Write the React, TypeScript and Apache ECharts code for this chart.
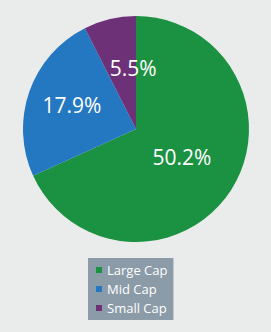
import React, { useEffect, useRef } from "react";
import * as echarts from "echarts";

const categories = ["Large Cap", "Mid Cap", "Small Cap"];
const values = [50.2, 17.9, 5.5];
const colors = ["#1b9142", "#2477c1", "#6d3178"];
const labelOffsets = [[-4, -4], [-8, -4], [11, -3]];

export default function App() {
  const ref = useRef<HTMLDivElement>(null);
  useEffect(() => {
    if (!ref.current) return;
    const chart = echarts.init(ref.current, undefined, { renderer: "svg" });
    chart.setOption({
      animation: false,
      backgroundColor: "#eaebeb",
      legend: {
        orient: "vertical",
        left: 88,
        top: 258,
        backgroundColor: "#8b9ba7",
        padding: [4, 6, 4, 8],
        itemWidth: 6,
        itemHeight: 6,
        itemGap: 3,
        icon: "rect",
        selectedMode: false,
        textStyle: { color: "#ffffff", fontSize: 13, lineHeight: 16, fontFamily: "Open Sans" },
        data: categories,
      },
      series: [
        {
          type: "pie",
          center: [136, 129],
          radius: 113,
          startAngle: 90,
          clockwise: true,
          label: {
            show: true,
            position: "inside",
            color: "#ffffff",
            fontSize: 21,
            fontFamily: "Open Sans",
            formatter: (p: any) => p.value.toFixed(1) + "%",
          },
          labelLine: { show: false },
          emphasis: { disabled: true },
          data: categories.map((c, i) => ({
            name: c,
            value: values[i],
            itemStyle: { color: colors[i] },
            label: { offset: labelOffsets[i] },
          })),
        },
      ],
    });
    return () => chart.dispose();
  }, []);
  return (
    <div
      ref={ref}
      style={{ position: "fixed", left: 0, top: 0, width: 271, height: 332 }}
    />
  );
}
